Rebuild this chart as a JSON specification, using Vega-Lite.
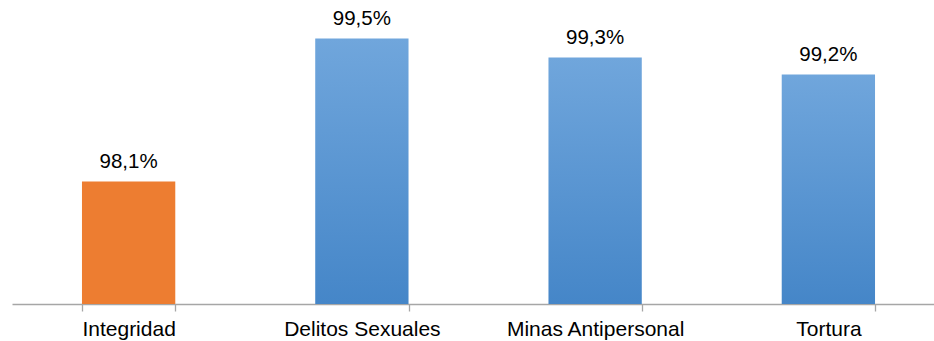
{
  "$schema": "https://vega.github.io/schema/vega-lite/v6.json",
  "autosize": {"type": "none"},
  "width": 922,
  "height": 304,
  "padding": {"left": 12, "top": 0, "right": 0, "bottom": 37},
  "background": "white",
  "config": {"view": {"stroke": null}},
  "data": {
    "values": [
      {"categoria": "Integridad", "valor": 98.1, "etiqueta": "98,1%", "grupo": "a"},
      {"categoria": "Delitos Sexuales", "valor": 99.53, "etiqueta": "99,5%", "grupo": "b"},
      {"categoria": "Minas Antipersonal", "valor": 99.34, "etiqueta": "99,3%", "grupo": "b"},
      {"categoria": "Tortura", "valor": 99.17, "etiqueta": "99,2%", "grupo": "b"}
    ]
  },
  "encoding": {
    "x": {
      "field": "categoria",
      "type": "nominal",
      "sort": null,
      "scale": {"range": [0, 933], "paddingInner": 0.6, "paddingOuter": 0.3},
      "axis": {
        "title": null,
        "labelAngle": 0,
        "labelFont": "Liberation Sans",
        "labelFontSize": 21,
        "labelColor": "#000000",
        "labelBaseline": "alphabetic",
        "labelPadding": 24,
        "tickBand": "extent",
        "tickSize": 7,
        "tickColor": "#a6a6a6",
        "tickWidth": 1.3,
        "domainColor": "#a6a6a6",
        "domainWidth": 1.3,
        "grid": false
      }
    },
    "y": {
      "field": "valor",
      "type": "quantitative",
      "scale": {"domain": [96.875, 99.915], "zero": false, "nice": false},
      "axis": null
    }
  },
  "layer": [
    {
      "transform": [{"filter": "datum.grupo == 'a'"}],
      "mark": {"type": "bar", "fill": "#ed7d31"},
      "encoding": {"y2": {"datum": 96.875}}
    },
    {
      "transform": [{"filter": "datum.grupo == 'b'"}],
      "mark": {
        "type": "bar",
        "fill": {
          "gradient": "linear",
          "x1": 0, "y1": 0, "x2": 0, "y2": 1,
          "stops": [
            {"offset": 0, "color": "#70a6dc"},
            {"offset": 1, "color": "#4586c8"}
          ]
        }
      },
      "encoding": {"y2": {"datum": 96.875}}
    },
    {
      "mark": {
        "type": "text",
        "font": "Liberation Sans",
        "fontSize": 20.5,
        "color": "#000000",
        "baseline": "alphabetic",
        "dy": -14
      },
      "encoding": {"text": {"field": "etiqueta"}}
    }
  ]
}
